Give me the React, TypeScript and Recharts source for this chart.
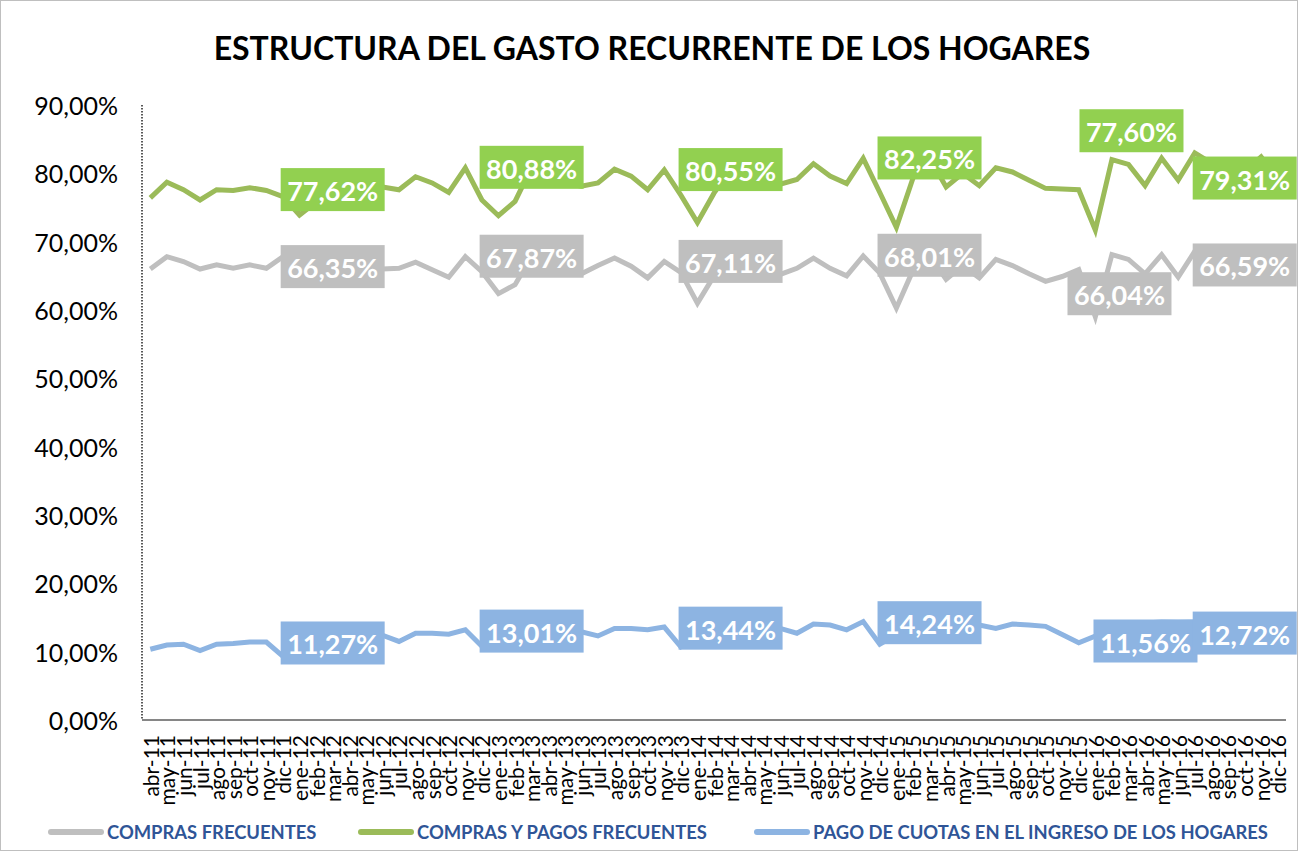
import React from 'react';
import { LineChart, Line, XAxis, YAxis } from 'recharts';

const MONTHS = [
  'abr-11', 'may-11', 'jun-11', 'jul-11', 'ago-11', 'sep-11', 'oct-11', 'nov-11', 'dic-11',
  'ene-12', 'feb-12', 'mar-12', 'abr-12', 'may-12', 'jun-12', 'jul-12', 'ago-12', 'sep-12', 'oct-12', 'nov-12', 'dic-12',
  'ene-13', 'feb-13', 'mar-13', 'abr-13', 'may-13', 'jun-13', 'jul-13', 'ago-13', 'sep-13', 'oct-13', 'nov-13', 'dic-13',
  'ene-14', 'feb-14', 'mar-14', 'abr-14', 'may-14', 'jun-14', 'jul-14', 'ago-14', 'sep-14', 'oct-14', 'nov-14', 'dic-14',
  'ene-15', 'feb-15', 'mar-15', 'abr-15', 'may-15', 'jun-15', 'jul-15', 'ago-15', 'sep-15', 'oct-15', 'nov-15', 'dic-15',
  'ene-16', 'feb-16', 'mar-16', 'abr-16', 'may-16', 'jun-16', 'jul-16', 'ago-16', 'sep-16', 'oct-16', 'nov-16', 'dic-16',
];

const COMPRAS_FRECUENTES = [
  66.0, 67.8, 67.1, 66.0, 66.6, 66.1, 66.6, 66.1, 67.8,
  65.0, 65.8, 66.35, 66.4, 66.2, 66.0, 66.1, 67.0, 65.9, 64.8, 67.8, 65.6,
  62.4, 63.7, 67.87, 66.5, 65.8, 65.3, 66.5, 67.6, 66.4, 64.7, 67.1, 65.5,
  61.0, 65.0, 67.11, 66.0, 65.6, 65.2, 66.1, 67.6, 66.1, 65.0, 67.9, 65.4,
  60.3, 65.8, 68.01, 64.5, 66.5, 64.7, 67.4, 66.5, 65.3, 64.2, 64.9, 65.9,
  59.0, 68.1, 67.4, 65.3, 68.1, 64.8, 68.6, 67.5, 67.0, 66.5, 68.0, 66.59,
];

const COMPRAS_Y_PAGOS = [
  76.4, 78.7, 77.6, 76.1, 77.6, 77.5, 77.9, 77.5, 76.6,
  73.9, 75.8, 77.62, 78.0, 78.4, 78.0, 77.6, 79.5, 78.6, 77.2, 80.8, 76.1,
  73.8, 75.9, 80.88, 79.3, 78.6, 78.1, 78.6, 80.6, 79.6, 77.6, 80.5, 76.8,
  72.8, 77.1, 80.55, 79.4, 78.9, 78.4, 79.1, 81.4, 79.6, 78.5, 82.2, 77.2,
  72.1, 79.3, 82.25, 78.0, 80.0, 78.2, 80.8, 80.2, 79.0, 77.8, 77.7, 77.6,
  71.7, 82.0, 81.3, 78.2, 82.2, 79.0, 83.0, 81.5, 80.8, 80.3, 82.4, 79.31,
];

const PAGO_CUOTAS = [
  10.35, 10.98, 11.08, 10.15, 11.1, 11.2, 11.4, 11.4, 9.3,
  11.0, 11.5, 11.27, 12.0, 12.3, 12.4, 11.5, 12.7, 12.7, 12.55, 13.2, 10.8,
  11.8, 12.5, 13.01, 13.0, 13.0, 12.9, 12.3, 13.4, 13.4, 13.2, 13.6, 10.7,
  12.0, 12.8, 13.44, 13.4, 13.4, 13.4, 12.7, 14.05, 13.9, 13.2, 14.4, 11.1,
  12.5, 13.5, 14.24, 13.8, 13.8, 13.9, 13.4, 14.05, 13.9, 13.7, 12.5, 11.3,
  12.3, 14.2, 14.2, 14.2, 14.35, 14.3, 14.35, 14.0, 13.5, 13.2, 13.0, 12.72,
];

const SERIES_NAMES = [
  'COMPRAS FRECUENTES',
  'COMPRAS Y PAGOS FRECUENTES',
  'PAGO DE CUOTAS EN EL INGRESO DE LOS HOGARES',
];

const Y_TICKS = [0, 10, 20, 30, 40, 50, 60, 70, 80, 90];

const LABEL_MONTHS = ['mar-12', 'mar-13', 'mar-14', 'mar-15', 'mar-16', 'dic-16'];
const LABELS_COMPRAS = [66.35, 67.87, 67.11, 68.01, 66.04, 66.59];
const LABELS_PAGOS = [77.62, 80.88, 80.55, 82.25, 77.6, 79.31];
const LABELS_CUOTAS = [11.27, 13.01, 13.44, 14.24, 11.56, 12.72];

// label placement tweaks (pixels), style only
const SHIFT_GRAY = [[0, 0], [0, 0], [0, 0], [0, 0], [-9, 25], [-33, 0]];
const SHIFT_GREEN = [[0, 0], [0, 0], [0, 0], [0, 0], [3, -59], [-33, 0]];
const SHIFT_BLUE = [[0, 0], [0, 0], [0, 0], [0, 0], [17, 0], [-33, 0]];

const C_GRAY = '#BFBFBF';
const C_GREEN_LINE = '#9BBB59';
const C_GREEN_BOX = '#92D050';
const C_BLUE = '#8DB4E2';
const FONT = 'Lato, Carlito, Calibri, sans-serif';

const fmt = (v: number) => v.toFixed(2).replace('.', ',') + '%';

const data = MONTHS.map((m, i) => {
  const k = LABEL_MONTHS.indexOf(m);
  return {
    m,
    c: COMPRAS_FRECUENTES[i],
    p: COMPRAS_Y_PAGOS[i],
    q: PAGO_CUOTAS[i],
    cl: k >= 0 ? LABELS_COMPRAS[k] : null,
    pl: k >= 0 ? LABELS_PAGOS[k] : null,
    ql: k >= 0 ? LABELS_CUOTAS[k] : null,
  };
});

const makeLabel = (fill: string, shifts: number[][]) => (props: any) => {
  const { x, y, value, index } = props;
  if (value == null || y == null || x == null) return null;
  const k = LABEL_MONTHS.indexOf(MONTHS[index]);
  if (k < 0) return null;
  const [dx, dy] = shifts[k];
  let cx = x + dx;
  const cy = y + dy;
  const w = 104;
  const h = 43;
  if (cx + w / 2 > 1298) cx = 1298 - w / 2;
  return (
    <g key={`lb-${fill}-${index}`}>
      <rect x={cx - w / 2} y={cy - h / 2} width={w} height={h} fill={fill} />
      <text
        x={cx}
        y={cy + 1}
        textAnchor="middle"
        dominantBaseline="central"
        fill="#FFFFFF"
        fontFamily={FONT}
        fontWeight={700}
        fontSize={27}
      >
        {fmt(value)}
      </text>
    </g>
  );
};

const XTick = (props: any) => {
  const { x, y, payload } = props;
  return (
    <text
      x={x}
      y={y}
      transform={`rotate(-90 ${x} ${y})`}
      textAnchor="end"
      dominantBaseline="central"
      fontFamily={FONT}
      fontSize={21}
      fill="#000"
    >
      {payload.value}
    </text>
  );
};

const YTick = (props: any) => {
  const { x, y, payload } = props;
  return (
    <text
      x={x}
      y={y}
      textAnchor="end"
      dominantBaseline="central"
      fontFamily={FONT}
      fontSize={25}
      fill="#000"
    >
      {fmt(payload.value)}
    </text>
  );
};

const LEGEND_COLORS = [C_GRAY, C_GREEN_LINE, C_BLUE];
const LEGEND_X = [48, 358, 754];

export default function App() {
  return (
    <div
      style={{
        position: 'absolute',
        left: 0,
        top: 0,
        width: 1304,
        height: 856,
        background: '#fff',
        fontFamily: FONT,
      }}
    >
      <div
        style={{
          position: 'absolute',
          left: 0,
          top: 0,
          width: 1298,
          height: 851,
          border: '1px solid #BFBFBF',
          boxSizing: 'border-box',
          pointerEvents: 'none',
        }}
      />
      <div
        style={{
          position: 'absolute',
          left: 0,
          top: 27,
          width: 1304,
          textAlign: 'center',
          fontWeight: 700,
          fontSize: 32,
          color: '#000',
          lineHeight: '42px',
        }}
      >
        ESTRUCTURA DEL GASTO RECURRENTE DE LOS HOGARES
      </div>
      <LineChart
        width={1304}
        height={856}
        data={data}
        margin={{ top: 105, right: 18, bottom: 46, left: 0 }}
      >
        <XAxis
          dataKey="m"
          interval={0}
          height={90}
          padding={{ left: 8.3, right: 8.3 }}
          axisLine={{ stroke: '#868686', strokeWidth: 2 }}
          tickLine={false}
          tickSize={0}
          tickMargin={15}
          tick={<XTick />}
        />
        <YAxis
          width={142}
          domain={[0, 90]}
          ticks={Y_TICKS}
          interval={0}
          axisLine={{ stroke: '#222', strokeWidth: 1.5, strokeDasharray: '1.5 1.5' }}
          tickLine={false}
          tickSize={0}
          tickMargin={24}
          tick={<YTick />}
        />
        <Line
          dataKey="c"
          name={SERIES_NAMES[0]}
          stroke={C_GRAY}
          strokeWidth={5}
          dot={false}
          isAnimationActive={false}
        />
        <Line
          dataKey="p"
          name={SERIES_NAMES[1]}
          stroke={C_GREEN_LINE}
          strokeWidth={5}
          dot={false}
          isAnimationActive={false}
        />
        <Line
          dataKey="q"
          name={SERIES_NAMES[2]}
          stroke={C_BLUE}
          strokeWidth={5}
          dot={false}
          isAnimationActive={false}
        />
        <Line
          dataKey="cl"
          stroke="none"
          dot={false}
          activeDot={false}
          isAnimationActive={false}
          label={makeLabel(C_GRAY, SHIFT_GRAY)}
        />
        <Line
          dataKey="pl"
          stroke="none"
          dot={false}
          activeDot={false}
          isAnimationActive={false}
          label={makeLabel(C_GREEN_BOX, SHIFT_GREEN)}
        />
        <Line
          dataKey="ql"
          stroke="none"
          dot={false}
          activeDot={false}
          isAnimationActive={false}
          label={makeLabel(C_BLUE, SHIFT_BLUE)}
        />
      </LineChart>
      {SERIES_NAMES.map((name, i) => (
        <div
          key={name}
          style={{
            position: 'absolute',
            left: LEGEND_X[i],
            top: 820,
            height: 24,
            display: 'flex',
            alignItems: 'center',
            whiteSpace: 'nowrap',
          }}
        >
          <div
            style={{
              width: 56,
              height: 6,
              borderRadius: 3,
              background: LEGEND_COLORS[i],
              marginRight: 3,
            }}
          />
          <span style={{ fontWeight: 700, fontSize: 18.4, color: '#2F5597' }}>{name}</span>
        </div>
      ))}
    </div>
  );
}
